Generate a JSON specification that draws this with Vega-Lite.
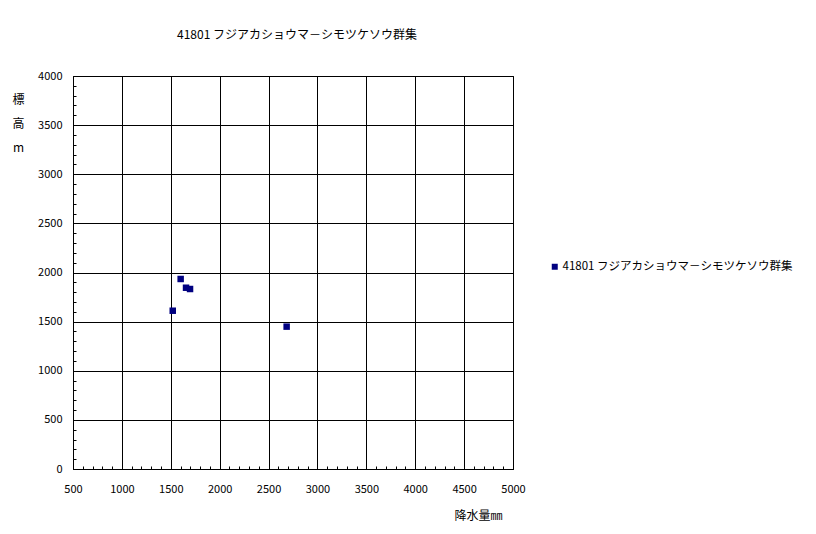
{
  "$schema": "https://vega.github.io/schema/vega-lite/v6.json",
  "autosize": {"type": "none"},
  "width": 440,
  "height": 393,
  "padding": {"left": 73, "top": 76, "right": 303, "bottom": 65},
  "background": "white",
  "config": {
    "font": "Noto Sans CJK JP",
    "view": {"stroke": "black", "strokeWidth": 1}
  },
  "title": {
    "text": "41801 フジアカショウマ－シモツケソウ群集",
    "fontSize": 12,
    "fontWeight": "normal",
    "color": "black",
    "anchor": "middle",
    "dx": 4,
    "offset": 28
  },
  "data": {
    "values": [
      {"precip": 1601, "elev": 1934, "series": "41801 フジアカショウマ－シモツケソウ群集"},
      {"precip": 1656, "elev": 1845, "series": "41801 フジアカショウマ－シモツケソウ群集"},
      {"precip": 1697, "elev": 1832, "series": "41801 フジアカショウマ－シモツケソウ群集"},
      {"precip": 1520, "elev": 1611, "series": "41801 フジアカショウマ－シモツケソウ群集"},
      {"precip": 2685, "elev": 1449, "series": "41801 フジアカショウマ－シモツケソウ群集"}
    ]
  },
  "mark": {"type": "point", "shape": "square", "filled": true, "size": 42, "opacity": 1},
  "encoding": {
    "x": {
      "field": "precip",
      "type": "quantitative",
      "scale": {"domain": [500, 5000], "nice": false, "zero": false},
      "axis": {
        "title": "降水量㎜",
        "titleFontSize": 12,
        "titleFontWeight": "normal",
        "titleColor": "black",
        "titleX": 405,
        "titleY": 46,
        "titleAlign": "center",
        "titleBaseline": "middle",
        "values": [500,600,700,800,900,1000,1100,1200,1300,1400,1500,1600,1700,1800,1900,2000,2100,2200,2300,2400,2500,2600,2700,2800,2900,3000,3100,3200,3300,3400,3500,3600,3700,3800,3900,4000,4100,4200,4300,4400,4500,4600,4700,4800,4900,5000],
        "labelExpr": "datum.value % 500 === 0 ? datum.value : ''",
        "labelOverlap": false,
        "labelFontSize": 11,
        "labelColor": "black",
        "labelPadding": 14,
        "labelFlush": false,
        "domainColor": "black",
        "tickColor": "black",
        "tickSize": {"condition": {"test": "datum.value % 500 === 0", "value": 0}, "value": -3},
        "grid": true,
        "gridColor": "black",
        "gridOpacity": {"condition": {"test": "datum.value % 500 === 0", "value": 1}, "value": 0}
      }
    },
    "y": {
      "field": "elev",
      "type": "quantitative",
      "scale": {"domain": [0, 4000], "nice": false},
      "axis": {
        "title": ["標", "高", "m"],
        "titleFontSize": 12,
        "titleFontWeight": "normal",
        "titleColor": "black",
        "titleAngle": 0,
        "titleLineHeight": 24,
        "titleX": -55,
        "titleY": 18,
        "titleAlign": "center",
        "titleBaseline": "top",
        "values": [0,100,200,300,400,500,600,700,800,900,1000,1100,1200,1300,1400,1500,1600,1700,1800,1900,2000,2100,2200,2300,2400,2500,2600,2700,2800,2900,3000,3100,3200,3300,3400,3500,3600,3700,3800,3900,4000],
        "labelExpr": "datum.value % 500 === 0 ? datum.value : ''",
        "labelOverlap": false,
        "labelFontSize": 11,
        "labelColor": "black",
        "labelPadding": 11,
        "labelFlush": false,
        "domainColor": "black",
        "tickColor": "black",
        "tickSize": {"condition": {"test": "datum.value % 500 === 0", "value": 0}, "value": -3},
        "grid": true,
        "gridColor": "black",
        "gridOpacity": {"condition": {"test": "datum.value % 500 === 0", "value": 1}, "value": 0}
      }
    },
    "color": {
      "field": "series",
      "type": "nominal",
      "scale": {"range": ["#000080"]},
      "legend": {
        "title": null,
        "orient": "none",
        "legendX": 476,
        "legendY": 185,
        "symbolType": "square",
        "symbolSize": 36,
        "symbolStrokeWidth": 0,
        "labelFontSize": 11.5,
        "labelColor": "black",
        "labelLimit": 400,
        "padding": 0,
        "labelOffset": 2
      }
    }
  }
}
